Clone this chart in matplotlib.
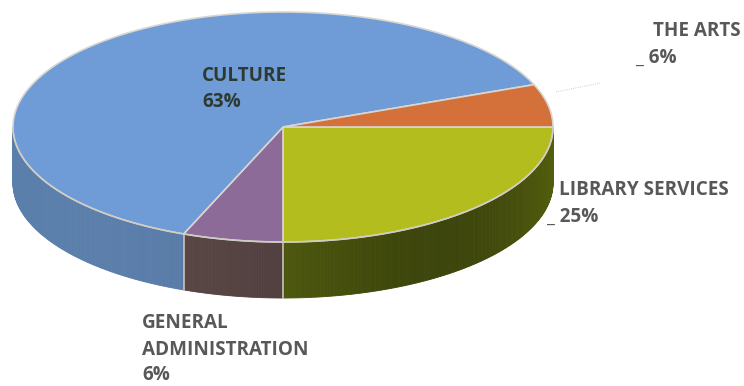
import numpy as np
import matplotlib
matplotlib.use('Agg')
import matplotlib.pyplot as plt
from matplotlib.patches import Polygon
from matplotlib.colors import to_rgb

# --- Data (clockwise from 3 o'clock) ---
labels = ['LIBRARY SERVICES', 'GENERAL\nADMINISTRATION', 'CULTURE', 'THE ARTS']
shares = [25, 6, 63, 6]
top_colors = ['#b3bd1e', '#8c6b98', '#6f9cd6', '#d4703a']
side_colors = ['#56620f', '#5a4746', '#5b7fab', '#9a4f26']

# --- Pie geometry (pixels) ---
cx, cy = 283, 127
a, b = 270, 115
depth = 56

plt.rcParams['font.family'] = ['Open Sans', 'DejaVu Sans']
fig = plt.figure(figsize=(7.44, 3.86), dpi=100)
ax = fig.add_axes([0, 0, 1, 1])
ax.set_xlim(0, 744)
ax.set_ylim(386, 0)
ax.axis('off')

fracs = np.array(shares) / sum(shares)
edges = np.concatenate([[0], np.cumsum(fracs) * 360])


def pt(t, dy=0):
    r = np.radians(t)
    return cx + a * np.cos(r), cy + b * np.sin(r) + dy


# side wall, only the front half (0..180 deg) is visible
for i in range(len(shares)):
    t0, t1 = max(edges[i], 0), min(edges[i + 1], 180)
    if t1 <= t0:
        continue
    ts = np.linspace(t0, t1, max(int((t1 - t0) * 2), 2))
    base = np.array(to_rgb(side_colors[i]))
    for j in range(len(ts) - 1):
        tm = 0.5 * (ts[j] + ts[j + 1])
        # darker toward the front-right of the wall
        shade = 1.0 - 0.3 * np.exp(-((tm - 55) / 35) ** 2)
        quad = [pt(ts[j]), pt(ts[j + 1]), pt(ts[j + 1], depth), pt(ts[j], depth)]
        ax.add_patch(Polygon(quad, closed=True, fc=base * shade, ec=base * shade, lw=0.6))

# light seams on the wall
for t in edges:
    if 0 < t < 180:
        x0, y0 = pt(t)
        x1, y1 = pt(t, depth)
        ax.plot([x0, x1], [y0, y1], color='#c9c4bc', lw=1.2)

# top face
for i in range(len(shares)):
    ts = np.linspace(edges[i], edges[i + 1], 200)
    verts = [(cx, cy)] + [pt(t) for t in ts]
    ax.add_patch(Polygon(verts, closed=True, fc=top_colors[i], ec='#d8d6d0', lw=1.2))

# rim between top and wall
ts = np.linspace(0, 180, 300)
rim = np.array([pt(t) for t in ts])
ax.plot(rim[:, 0], rim[:, 1], color='#d0ccc4', lw=1.0)

# faint leader to THE ARTS
ax.plot([556, 600], [92, 83], color='#bbbbbb', lw=0.6, ls=':')

# --- Labels ---
fs = 13.6
lab_kw = dict(fontsize=fs, fontweight='bold', color='#585858', va='center')
ax.text(202, 76, 'CULTURE', color='#2e3a30', fontsize=fs, fontweight='bold', va='center')
ax.text(202, 102, f'{shares[2]}%', color='#2e3a30', fontsize=fs, fontweight='bold', va='center')

ax.text(741, 31, 'THE ARTS', ha='right', **lab_kw)
ax.text(636, 58, f'_ {shares[3]}%', ha='left', **lab_kw)

ax.text(559, 190, 'LIBRARY SERVICES', ha='left', **lab_kw)
ax.text(547, 217, f'_ {shares[0]}%', ha='left', **lab_kw)

ax.text(142, 323, 'GENERAL', ha='left', **lab_kw)
ax.text(142, 350, 'ADMINISTRATION', ha='left', **lab_kw)
ax.text(142, 375, f'{shares[1]}%', ha='left', **lab_kw)

fig.savefig('out.png', dpi=100)
